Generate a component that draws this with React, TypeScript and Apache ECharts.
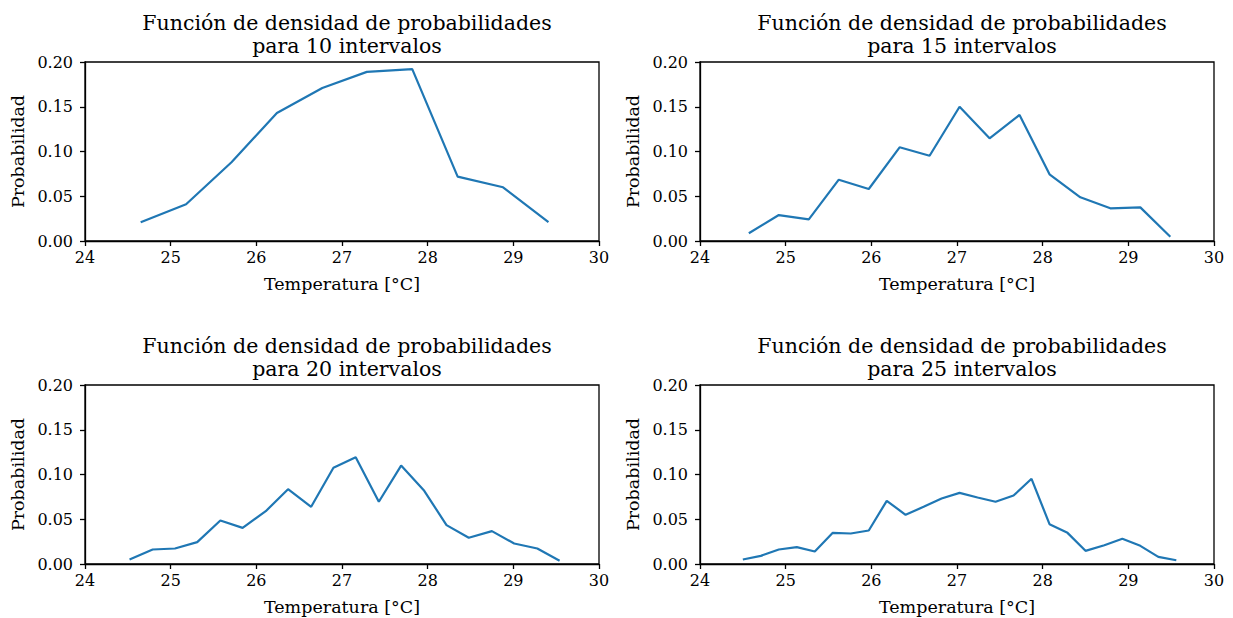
import React, { useEffect, useRef } from "react";
import * as echarts from "echarts";

const temps10 = [24.65, 25.18, 25.71, 26.24, 26.77, 27.29, 27.82, 28.35, 28.88, 29.41];
const probs10 = [0.021, 0.041, 0.088, 0.143, 0.171, 0.189, 0.192, 0.072, 0.060, 0.021];

const temps15 = [24.57, 24.92, 25.27, 25.62, 25.97, 26.33, 26.68, 27.03, 27.38, 27.73, 28.08, 28.44, 28.79, 29.14, 29.49];
const probs15 = [0.0086, 0.029, 0.0242, 0.0685, 0.0581, 0.1047, 0.0953, 0.150, 0.1147, 0.1408, 0.0745, 0.0488, 0.0365, 0.0376, 0.0048];

const temps20 = [24.52, 24.79, 25.05, 25.31, 25.58, 25.84, 26.11, 26.37, 26.64, 26.90, 27.16, 27.43, 27.69, 27.96, 28.22, 28.48, 28.75, 29.01, 29.28, 29.54];
const probs20 = [0.005, 0.0162, 0.0173, 0.0244, 0.0486, 0.0404, 0.059, 0.0836, 0.0639, 0.1075, 0.1193, 0.0695, 0.110, 0.0818, 0.0434, 0.0293, 0.0367, 0.0229, 0.0173, 0.0036];

const temps25 = [24.50, 24.71, 24.92, 25.13, 25.34, 25.55, 25.76, 25.97, 26.18, 26.40, 26.61, 26.82, 27.03, 27.24, 27.45, 27.66, 27.87, 28.08, 28.29, 28.50, 28.72, 28.93, 29.14, 29.35, 29.56];
const probs25 = [0.005, 0.0091, 0.0162, 0.0188, 0.014, 0.0348, 0.0341, 0.0374, 0.0706, 0.055, 0.0639, 0.0732, 0.0795, 0.0743, 0.0695, 0.0765, 0.0952, 0.0445, 0.0348, 0.0147, 0.021, 0.0282, 0.0203, 0.008, 0.0042];

const intervalCounts = [10, 15, 20, 25];
const xTicks = { min: 24, max: 30, interval: 1 };
const yTicks = { min: 0, max: 0.2, interval: 0.05 };

const FONT = "DejaVu Serif";

export default function App() {
  const ref = useRef<HTMLDivElement>(null);

  useEffect(() => {
    if (!ref.current) return;
    const chart = echarts.init(ref.current, null, { renderer: "svg" });
    const datasets = [
      [temps10, probs10],
      [temps15, probs15],
      [temps20, probs20],
      [temps25, probs25],
    ];
    const lefts = [85, 700, 85, 700];
    const tops = [62, 62, 385, 385];
    const W = 514;
    const H = 179;

    const grids = lefts.map((l, i) => ({
      left: l,
      top: tops[i],
      width: W,
      height: H,
      show: true,
      borderColor: "#000",
      borderWidth: 1.3,
      backgroundColor: "transparent",
      containLabel: false,
    }));

    const titles = intervalCounts.map((n, i) => ({
      text: "Función de densidad de probabilidades\npara " + n + " intervalos",
      left: lefts[i] + W / 2,
      top: tops[i] - 56,
      textAlign: "center",
      textStyle: {
        fontFamily: FONT,
        fontSize: 20.5,
        fontWeight: "normal",
        color: "#000",
        lineHeight: 23,
      },
    }));

    const xAxes = lefts.map((_, i) => ({
      type: "value",
      gridIndex: i,
      min: xTicks.min,
      max: xTicks.max,
      interval: xTicks.interval,
      name: "Temperatura [°C]",
      nameLocation: "middle",
      nameGap: 34,
      nameTextStyle: { fontFamily: FONT, fontSize: 17.5, color: "#000" },
      axisLine: { show: true, onZero: false, lineStyle: { color: "#000", width: 1.3 } },
      axisTick: { show: true, inside: false, length: 5, lineStyle: { color: "#000", width: 1.3 } },
      axisLabel: { fontFamily: FONT, fontSize: 16, color: "#000", margin: 8 },
      splitLine: { show: false },
    }));

    const yAxes = lefts.map((_, i) => ({
      type: "value",
      gridIndex: i,
      min: yTicks.min,
      max: yTicks.max,
      interval: yTicks.interval,
      name: "Probabilidad",
      nameLocation: "middle",
      nameGap: 58,
      nameTextStyle: { fontFamily: FONT, fontSize: 17.5, color: "#000" },
      axisLine: { show: true, lineStyle: { color: "#000", width: 1.3 } },
      axisTick: { show: true, inside: false, length: 5, lineStyle: { color: "#000", width: 1.3 } },
      axisLabel: {
        fontFamily: FONT,
        fontSize: 16,
        color: "#000",
        margin: 12,
        formatter: (v: number) => v.toFixed(2),
      },
      splitLine: { show: false },
    }));

    const series = datasets.map(([xs, ys], i) => ({
      type: "line",
      xAxisIndex: i,
      yAxisIndex: i,
      data: xs.map((x, j) => [x, ys[j]]),
      showSymbol: false,
      symbol: "none",
      lineStyle: { color: "#1f77b4", width: 2.2 },
      silent: true,
    }));

    chart.setOption({
      animation: false,
      backgroundColor: "#fff",
      title: titles,
      grid: grids,
      xAxis: xAxes,
      yAxis: yAxes,
      series,
    });
    return () => chart.dispose();
  }, []);

  return (
    <div
      ref={ref}
      style={{ position: "fixed", left: 0, top: 0, width: 1233, height: 618 }}
    />
  );
}
